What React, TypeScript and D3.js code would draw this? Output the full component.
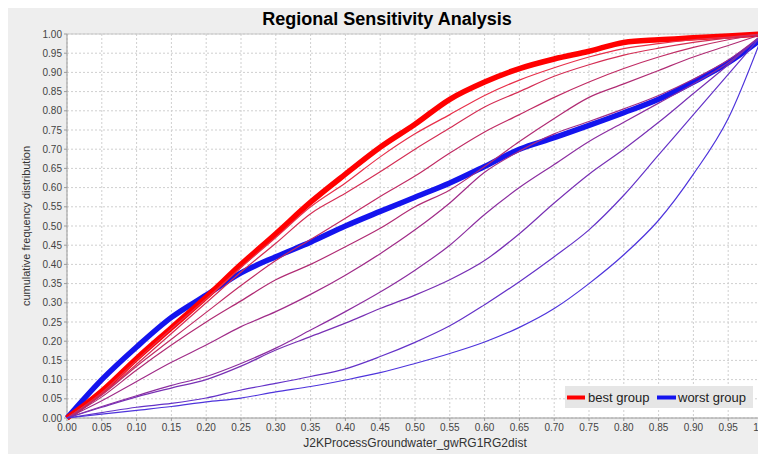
import * as d3 from 'd3'

const WIDTH = 758
const HEIGHT = 446
const MARGIN = { top: 26, right: 3, bottom: 36, left: 59 }

// cumulative frequency sampled every 0.05 along the parameter axis
const xValues = [0, 0.05, 0.1, 0.15, 0.2, 0.25, 0.3, 0.35, 0.4, 0.45, 0.5, 0.55, 0.6, 0.65, 0.7, 0.75, 0.8, 0.85, 0.9, 0.95, 1.0]

const bestGroup = [0, 0.07, 0.155, 0.235, 0.315, 0.4, 0.48, 0.562, 0.635, 0.705, 0.765, 0.83, 0.875, 0.91, 0.935, 0.955, 0.978, 0.985, 0.99, 0.995, 1.0]
const worstGroup = [0, 0.1, 0.185, 0.262, 0.32, 0.378, 0.42, 0.458, 0.5, 0.538, 0.575, 0.612, 0.655, 0.7, 0.73, 0.762, 0.795, 0.83, 0.875, 0.925, 0.99]

const group2 = [0, 0.066, 0.15, 0.232, 0.31, 0.392, 0.47, 0.55, 0.612, 0.68, 0.74, 0.79, 0.84, 0.88, 0.912, 0.94, 0.962, 0.975, 0.985, 0.992, 1.0]
const group3 = [0, 0.062, 0.14, 0.22, 0.3, 0.38, 0.455, 0.532, 0.585, 0.641, 0.7, 0.755, 0.81, 0.85, 0.89, 0.92, 0.945, 0.963, 0.978, 0.99, 1.0]
const group4 = [0, 0.06, 0.135, 0.205, 0.275, 0.345, 0.41, 0.465, 0.52, 0.577, 0.63, 0.69, 0.745, 0.79, 0.835, 0.875, 0.91, 0.94, 0.965, 0.985, 1.0]
const group5 = [0, 0.055, 0.125, 0.19, 0.25, 0.305, 0.36, 0.4, 0.446, 0.494, 0.55, 0.594, 0.655, 0.72, 0.78, 0.835, 0.87, 0.905, 0.94, 0.97, 1.0]
const group6 = [0, 0.045, 0.095, 0.145, 0.19, 0.238, 0.277, 0.322, 0.372, 0.428, 0.49, 0.56, 0.64, 0.695, 0.74, 0.772, 0.805, 0.84, 0.882, 0.932, 1.0]
const group7 = [0, 0.03, 0.058, 0.085, 0.108, 0.142, 0.182, 0.229, 0.277, 0.328, 0.385, 0.45, 0.53, 0.6, 0.66, 0.72, 0.77, 0.82, 0.87, 0.925, 1.0]
const group8 = [0, 0.028, 0.055, 0.078, 0.1, 0.135, 0.177, 0.212, 0.247, 0.285, 0.32, 0.36, 0.41, 0.48, 0.56, 0.635, 0.7, 0.77, 0.845, 0.92, 1.0]
const group9 = [0, 0.014, 0.028, 0.038, 0.052, 0.073, 0.09, 0.108, 0.128, 0.16, 0.197, 0.24, 0.295, 0.355, 0.42, 0.49, 0.58, 0.685, 0.79, 0.895, 1.0]
const group10 = [0, 0.01, 0.02, 0.03, 0.042, 0.052, 0.068, 0.082, 0.099, 0.118, 0.142, 0.168, 0.198, 0.236, 0.285, 0.35, 0.425, 0.515, 0.635, 0.78, 1.0]

const midGroups = [group2, group3, group4, group5, group6, group7, group8, group9, group10]
const midColors = ['#e8304a', '#d42e54', '#c02c64', '#b02c74', '#a02c88', '#8c2ea0', '#7830b4', '#6432c8', '#4e34dc']

const tickValues = [0, 0.05, 0.1, 0.15, 0.2, 0.25, 0.3, 0.35, 0.4, 0.45, 0.5, 0.55, 0.6, 0.65, 0.7, 0.75, 0.8, 0.85, 0.9, 0.95, 1.0]

const FONT = '"Liberation Sans", Arial, sans-serif'

export default function App() {
  const x = d3.scaleLinear().domain([0, 1]).range([MARGIN.left, WIDTH - MARGIN.right])
  const y = d3.scaleLinear().domain([0, 1]).range([HEIGHT - MARGIN.bottom, MARGIN.top])

  const line = d3.line<number>()
    .x((_, i) => x(xValues[i]))
    .y(d => y(d))
    .curve(d3.curveMonotoneX)

  const left = x(0)
  const right = x(1)
  const top = y(1)
  const bottom = y(0)

  return (
    <svg width={WIDTH} height={HEIGHT} style={{ display: 'block', background: '#eeeeee' }}>
      <text x={WIDTH / 2} y={17} textAnchor="middle" fontFamily={FONT} fontWeight="bold" fontSize={18} fill="#000">
        Regional Sensitivity Analysis
      </text>

      <rect x={left} y={top} width={right - left} height={bottom - top} fill="#fff" />

      {/* dotted grid */}
      {tickValues.map((t, i) => (
        <g key={i}>
          <line x1={x(t)} x2={x(t)} y1={top} y2={bottom} stroke="#cfcfcf" strokeDasharray="2,2" />
          <line x1={left} x2={right} y1={y(t)} y2={y(t)} stroke="#cfcfcf" strokeDasharray="2,2" />
        </g>
      ))}

      {/* axes */}
      <line x1={left} x2={right} y1={top} y2={top} stroke="#c8c8c8" />
      <line x1={left} x2={left} y1={top} y2={bottom} stroke="#9a9a9a" />
      <line x1={left} x2={right} y1={bottom} y2={bottom} stroke="#9a9a9a" />

      {tickValues.map((t, i) => (
        <g key={i} fontFamily={FONT} fontSize={10} fill="#444">
          <line x1={left - 3} x2={left} y1={y(t)} y2={y(t)} stroke="#9a9a9a" />
          <text x={left - 5} y={y(t) + 3.5} textAnchor="end">{t.toFixed(2)}</text>
          <line x1={x(t)} x2={x(t)} y1={bottom} y2={bottom + 3} stroke="#9a9a9a" />
          <text x={x(t)} y={bottom + 13} textAnchor="middle">{t.toFixed(2)}</text>
        </g>
      ))}

      <text x={(left + right) / 2} y={439} textAnchor="middle" fontFamily={FONT} fontSize={12} fill="#333">
        J2KProcessGroundwater_gwRG1RG2dist
      </text>
      <text
        transform={`translate(22, ${(top + bottom) / 2}) rotate(-90)`}
        textAnchor="middle"
        fontFamily={FONT}
        fontSize={11}
        fill="#333"
      >
        cumulative frequency distribution
      </text>

      {/* thick groups */}
      <path d={line(worstGroup) ?? ''} fill="none" stroke="#1414ee" strokeWidth={5.5} strokeLinejoin="round" />
      <path d={line(bestGroup) ?? ''} fill="none" stroke="#ff0000" strokeWidth={5.5} strokeLinejoin="round" />

      {/* intermediate groups */}
      {midGroups.map((g, i) => (
        <path key={i} d={line(g) ?? ''} fill="none" stroke={midColors[i]} strokeWidth={1.2} strokeLinejoin="round" />
      ))}

      {/* legend */}
      <g fontFamily={FONT} fontSize={13} fill="#222">
        <rect x={557} y={378} width={188} height={22} fill="#e6e6e6" />
        <line x1={559} x2={577} y1={389.5} y2={389.5} stroke="#ff0000" strokeWidth={4} />
        <text x={580} y={394}>best group</text>
        <line x1={649} x2={668} y1={389.5} y2={389.5} stroke="#1414ee" strokeWidth={4} />
        <text x={670} y={394}>worst group</text>
      </g>
    </svg>
  )
}
